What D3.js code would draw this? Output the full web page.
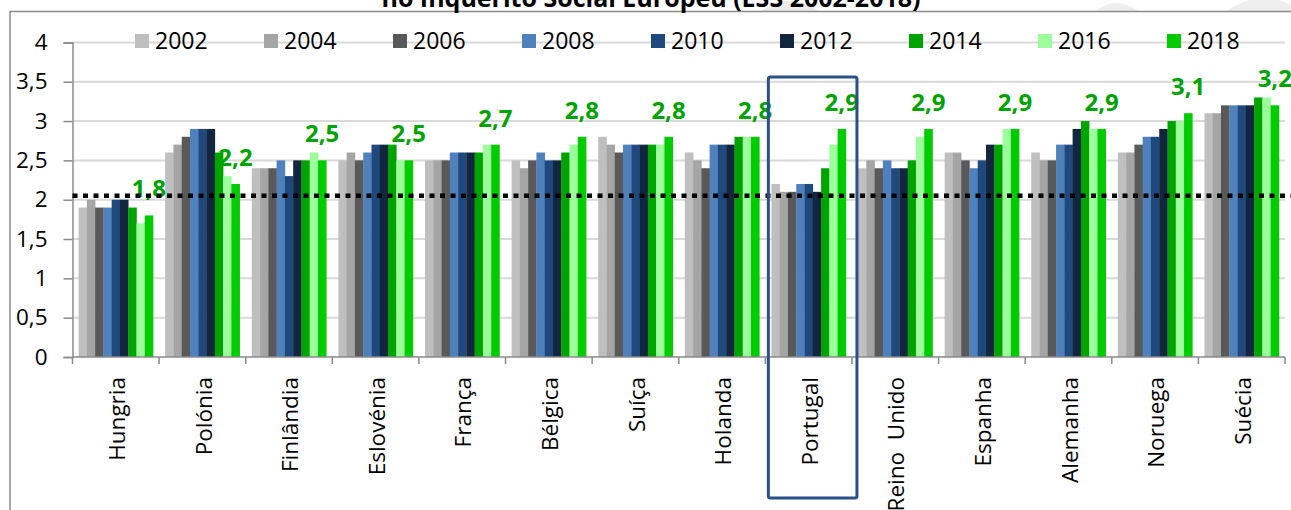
<!DOCTYPE html>
<html>
<head>
<meta charset="utf-8">
<script src="https://cdn.jsdelivr.net/npm/d3@7"></script>
<style>
html,body{margin:0;padding:0;background:#fff;}
svg{display:block;font-family:"Open Sans",sans-serif;}
</style>
</head>
<body>
<svg id="chart" width="1291" height="510"></svg>
<script>
const countries = ["Hungria","Polónia","Finlândia","Eslovénia","França","Bélgica","Suíça","Holanda","Portugal","Reino  Unido","Espanha","Alemanha","Noruega","Suécia"];
const years = ["2002","2004","2006","2008","2010","2012","2014","2016","2018"];
const v2002 = [1.9,2.6,2.4,2.5,2.5,2.5,2.8,2.6,2.2,2.4,2.6,2.6,2.6,3.1];
const v2004 = [2.0,2.7,2.4,2.6,2.5,2.4,2.7,2.5,2.1,2.5,2.6,2.5,2.6,3.1];
const v2006 = [1.9,2.8,2.4,2.5,2.5,2.5,2.6,2.4,2.1,2.4,2.5,2.5,2.7,3.2];
const v2008 = [1.9,2.9,2.5,2.6,2.6,2.6,2.7,2.7,2.2,2.5,2.4,2.7,2.8,3.2];
const v2010 = [2.0,2.9,2.3,2.7,2.6,2.5,2.7,2.7,2.2,2.4,2.5,2.7,2.8,3.2];
const v2012 = [2.0,2.9,2.5,2.7,2.6,2.5,2.7,2.7,2.1,2.4,2.7,2.9,2.9,3.2];
const v2014 = [1.9,2.6,2.5,2.7,2.6,2.6,2.7,2.8,2.4,2.5,2.7,3.0,3.0,3.3];
const v2016 = [1.7,2.3,2.6,2.5,2.7,2.7,2.7,2.8,2.7,2.8,2.9,2.9,3.0,3.3];
const v2018 = [1.8,2.2,2.5,2.5,2.7,2.8,2.8,2.8,2.9,2.9,2.9,2.9,3.1,3.2];
const seriesValues = [v2002,v2004,v2006,v2008,v2010,v2012,v2014,v2016,v2018];
const colors = ["#bfbfbf","#a5a5a5","#595959","#4f81bd","#1f497d","#13263f","#00a400","#9cff9c","#00cc00"];
const yTicks = [0,0.5,1,1.5,2,2.5,3,3.5,4];
const average = 2.05;
const highlight = "Portugal";
const titleText = "no Inquérito Social Europeu (ESS 2002-2018)";

const svg = d3.select("#chart");
const fmt = v => String(v).replace(".", ",");

// watermark shapes (faint)
svg.append("path").attr("d","M760,12 Q790,-10 820,12 Z").attr("fill","#ececec");
svg.append("path").attr("d","M1095,12 Q1115,-6 1140,12 Z").attr("fill","#efefef");
svg.append("path").attr("d","M1225,12 Q1260,-12 1291,5 L1291,12 Z").attr("fill","#efefef");

// frame
svg.append("path").attr("d","M10,510 L10,11.5 L1291,11.5").attr("fill","none").attr("stroke","#8a8a8a").attr("stroke-width",1.5);

// title (cropped at top, as in the reference)
svg.append("text").attr("x",651).attr("y",6.5).attr("text-anchor","middle")
  .attr("font-weight","bold").attr("font-size",25).attr("fill","#000").text(titleText);

const x0 = d3.scaleBand().domain(countries).range([72.5,1285]).paddingInner(0.14).paddingOuter(0.07);
const x1 = d3.scaleBand().domain(years).range([0,x0.bandwidth()]);
const y = d3.scaleLinear().domain([0,4]).range([357,42.4]);

// gridlines
svg.append("g").selectAll("line").data(yTicks.filter(d=>d>0)).join("line")
  .attr("x1",72.5).attr("x2",1285).attr("y1",d=>y(d)).attr("y2",d=>y(d))
  .attr("stroke","#d9d9d9").attr("stroke-width",2);

// y axis
const yAxis = d3.axisLeft(y).tickValues(yTicks).tickFormat(fmt).tickSize(9).tickPadding(16);
const gy = svg.append("g").attr("transform","translate(72.5,0)").call(yAxis);
gy.select(".domain").attr("stroke","#8a8a8a").attr("stroke-width",1.5);
gy.selectAll(".tick line").attr("stroke","#8a8a8a").attr("stroke-width",1.5);
gy.selectAll(".tick text").attr("font-size",22.5).attr("font-family","Open Sans").attr("fill","#000");

// bars
const groups = svg.append("g").selectAll("g").data(countries).join("g")
  .attr("transform",c=>`translate(${x0(c)},0)`);
groups.selectAll("rect").data((c,i)=>years.map((yr,s)=>({yr,s,v:seriesValues[s][i]}))).join("rect")
  .attr("x",d=>x1(d.yr)).attr("width",x1.bandwidth()+0.3)
  .attr("y",d=>y(d.v)).attr("height",d=>y(0)-y(d.v))
  .attr("fill",d=>colors[d.s]);

// x axis
const step = x0.step();
const boundaries = d3.range(countries.length+1).map(i=>72.5+i*step);
svg.append("line").attr("x1",72.5).attr("x2",1285).attr("y1",357).attr("y2",357)
  .attr("stroke","#8a8a8a").attr("stroke-width",1.5);
svg.append("g").selectAll("line").data(boundaries).join("line")
  .attr("x1",d=>d).attr("x2",d=>d).attr("y1",357).attr("y2",364)
  .attr("stroke","#8a8a8a").attr("stroke-width",1.5);
svg.append("g").selectAll("text").data(countries).join("text")
  .attr("transform",c=>`translate(${x0(c)+x0.bandwidth()/2+1},377) rotate(-90)`)
  .attr("text-anchor","end").attr("dy","0.36em")
  .attr("font-size",22.5).attr("fill","#000").style("white-space","pre")
  .text(c=>c);

// data labels for 2018
const last = years[years.length-1];
svg.append("g").selectAll("text").data(countries).join("text")
  .attr("x",(c)=>x0(c)+x1(last)+x1.bandwidth()/2)
  .attr("y",(c,i)=>y(v2018[i])-18)
  .attr("text-anchor","middle").attr("font-weight","bold").attr("font-size",24)
  .attr("fill","#00a400").text((c,i)=>fmt(v2018[i]));

// average dotted line
svg.append("line").attr("x1",72.5).attr("x2",1291).attr("y1",y(average)).attr("y2",y(average))
  .attr("stroke","#000").attr("stroke-width",4.5).attr("stroke-dasharray","5,5.5");

// highlight box
svg.append("rect").attr("x",x0(highlight)-x0.step()*x0.paddingInner()/2+3).attr("y",77)
  .attr("width",step+2).attr("height",421).attr("rx",2)
  .attr("fill","none").attr("stroke","#2b5088").attr("stroke-width",3);

// legend
const leg = svg.append("g").selectAll("g").data(years).join("g")
  .attr("transform",(d,i)=>`translate(${135+i*129},41)`);
leg.append("rect").attr("x",0).attr("y",-7).attr("width",14).attr("height",14).attr("fill",(d,i)=>colors[i]);
leg.append("text").attr("x",20).attr("dy","0.36em").attr("font-size",23).attr("fill","#000").text(d=>d);
</script>
</body>
</html>
